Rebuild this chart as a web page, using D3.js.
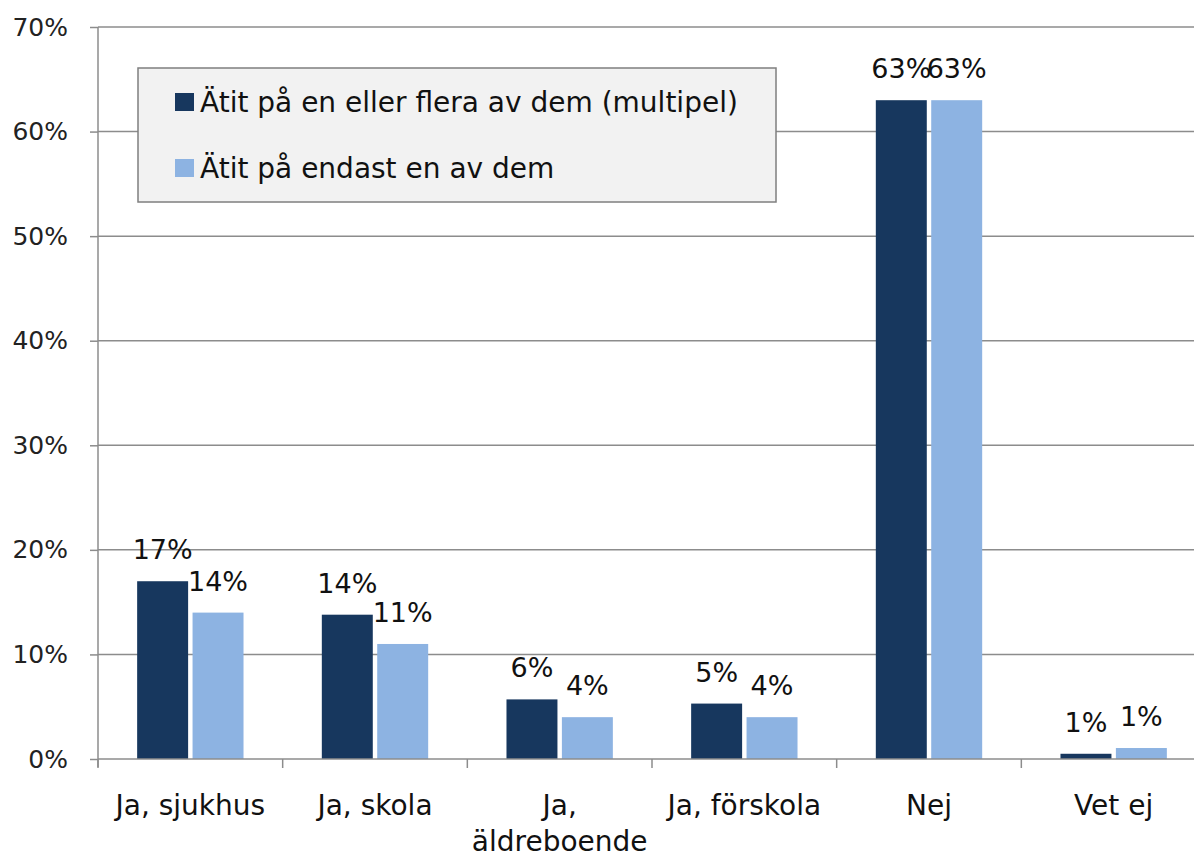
<!DOCTYPE html>
<html>
<head>
<meta charset="utf-8">
<script src="https://cdn.jsdelivr.net/npm/d3@7"></script>
<style>
  body { margin: 0; background: #fff; }
  svg { display: block; font-family: "DejaVu Sans", sans-serif; }
</style>
</head>
<body>
<div id="chart"></div>
<script>
(function() {

    // categories on the x axis
    var categories = ["Ja, sjukhus", "Ja, skola", "Ja, äldreboende", "Ja, förskola", "Nej", "Vet ej"];
    // how the long category names are broken into lines
    var categoryLines = [["Ja, sjukhus"], ["Ja, skola"], ["Ja,", "äldreboende"], ["Ja, förskola"], ["Nej"], ["Vet ej"]];

    var seriesNames = ["Ätit på en eller flera av dem (multipel)", "Ätit på endast en av dem"];
    var multipel = [0.170, 0.138, 0.057, 0.053, 0.630, 0.005];
    var endast = [0.140, 0.110, 0.040, 0.040, 0.630, 0.0105];
    var multipelLabels = ["17%", "14%", "6%", "5%", "63%", "1%"];
    var endastLabels = ["14%", "11%", "4%", "4%", "63%", "1%"];
    var yTicks = [0, 0.1, 0.2, 0.3, 0.4, 0.5, 0.6, 0.7];

    var colors = ["#17375e", "#8db3e2"];

    var W = 1194, H = 858;
    var margin = { top: 27, right: -12, bottom: 99, left: 98 };
    var width = W - margin.left - margin.right,
        height = H - margin.top - margin.bottom;

    var svg = d3.select("#chart")
        .append("svg")
        .attr("width", W)
        .attr("height", H)
        .append("g")
        .attr("transform", "translate(" + margin.left + "," + margin.top + ")");

    var y = d3.scaleLinear()
        .domain([0, 0.7])
        .range([height, 0]);

    var x0 = d3.scaleBand()
        .domain(categories)
        .range([0, width])
        .padding(0);

    var bw = x0.bandwidth();
    var x1 = d3.scaleBand()
        .domain([0, 1])
        .range([bw * 0.212, bw * 0.788])
        .paddingInner(0.08);

    // gridlines
    svg.append("g")
        .selectAll("line")
        .data(yTicks.slice(1))
        .enter().append("line")
        .attr("x1", 0)
        .attr("x2", width)
        .attr("y1", function(d) { return y(d); })
        .attr("y2", function(d) { return y(d); })
        .attr("stroke", "#8c8c8c")
        .attr("stroke-width", 1.5);

    // Y axis
    var yAxis = svg.append("g")
        .call(d3.axisLeft(y).tickValues(yTicks).tickFormat(d3.format(".0%")).tickSize(8).tickPadding(22));
    yAxis.select(".domain").attr("stroke", "#8c8c8c").attr("stroke-width", 1.5).attr("d", "M0," + (height + 8) + "V0");
    yAxis.selectAll(".tick line").attr("stroke", "#8c8c8c").attr("stroke-width", 1.5);
    yAxis.selectAll("text").attr("fill", "#222").style("font-size", "25px")
        .style("font-family", "'DejaVu Sans', sans-serif");

    // bars
    var rows = categories.map(function(c, i) {
        return { cat: c, vals: [multipel[i], endast[i]], labels: [multipelLabels[i], endastLabels[i]] };
    });

    var groups = svg.append("g")
        .selectAll("g")
        .data(rows)
        .enter().append("g")
        .attr("transform", function(d) { return "translate(" + x0(d.cat) + ",0)"; });

    groups.selectAll("rect")
        .data(function(d) { return d.vals.map(function(v, k) { return { k: k, v: v }; }); })
        .enter().append("rect")
        .attr("x", function(d) { return x1(d.k); })
        .attr("y", function(d) { return y(d.v); })
        .attr("width", x1.bandwidth())
        .attr("height", function(d) { return height - y(d.v); })
        .attr("fill", function(d) { return colors[d.k]; });

    groups.selectAll("text")
        .data(function(d) { return d.vals.map(function(v, k) { return { k: k, v: v, t: d.labels[k] }; }); })
        .enter().append("text")
        .attr("x", function(d) { return x1(d.k) + x1.bandwidth() / 2; })
        .attr("y", function(d) { return y(d.v) - 22; })
        .attr("text-anchor", "middle")
        .attr("fill", "#111")
        .style("font-size", "27px")
        .text(function(d) { return d.t; });

    // X axis
    var xAxis = svg.append("g")
        .attr("transform", "translate(0," + height + ")");
    xAxis.append("line")
        .attr("x1", 0).attr("x2", width)
        .attr("stroke", "#8c8c8c").attr("stroke-width", 1.5);
    xAxis.selectAll(".xtick")
        .data(categories.concat([null]))
        .enter().append("line")
        .attr("x1", function(d, i) { return i * bw; })
        .attr("x2", function(d, i) { return i * bw; })
        .attr("y1", 0).attr("y2", 9)
        .attr("stroke", "#8c8c8c").attr("stroke-width", 1.5);
    xAxis.selectAll(".xlabel")
        .data(categories)
        .enter().append("text")
        .attr("text-anchor", "middle")
        .attr("fill", "#111")
        .style("font-size", "28px")
        .each(function(d, i) {
            var t = d3.select(this);
            categoryLines[i].forEach(function(line, j) {
                t.append("tspan")
                    .attr("x", x0(d) + bw / 2)
                    .attr("y", 56 + j * 36)
                    .text(line);
            });
        });

    // legend
    var legend = svg.append("g")
        .attr("transform", "translate(40,41)");
    legend.append("rect")
        .attr("width", 638)
        .attr("height", 134)
        .attr("fill", "#f2f2f2")
        .attr("stroke", "#7f7f7f")
        .attr("stroke-width", 1.5);
    var item = legend.selectAll(".item")
        .data(seriesNames)
        .enter().append("g")
        .attr("transform", function(d, i) { return "translate(37," + (34 + i * 66) + ")"; });
    item.append("rect")
        .attr("width", 19)
        .attr("height", 18)
        .attr("y", -9)
        .attr("fill", function(d, i) { return colors[i]; });
    item.append("text")
        .attr("x", 25)
        .attr("y", 10)
        .attr("fill", "#111")
        .style("font-size", "28px")
        .text(function(d) { return d; });

})();
</script>
</body>
</html>
